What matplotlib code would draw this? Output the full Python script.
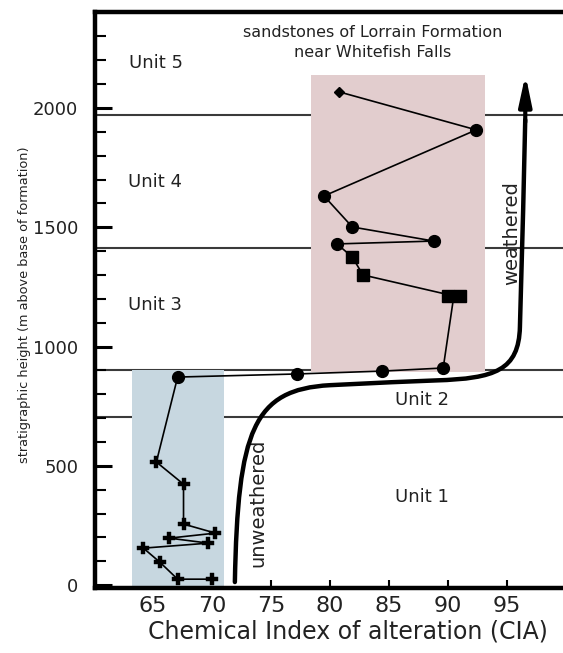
import matplotlib
matplotlib.use("Agg")
import matplotlib.pyplot as plt
from matplotlib.patches import Rectangle, PathPatch
from matplotlib.path import Path
import numpy as np

# ---- data ----
cross_cia = [70.0, 67.1, 65.6, 64.2, 69.7, 66.4, 70.3, 67.6, 67.6, 65.3]
cross_h = [25, 25, 96, 155, 176, 197, 218, 256, 423, 516]

circ_low_cia = [67.1, 77.2, 84.4, 89.6]
circ_low_h = [872, 885, 897, 910]

sq_cia = [90.0, 91.0, 82.8, 81.9]
sq_h = [1212, 1212, 1300, 1375]

circ_up_cia = [80.6, 88.8, 81.9, 79.5, 92.4]
circ_up_h = [1430, 1442, 1501, 1631, 1908]

dia_cia = [80.8]
dia_h = [2067]

unit_bounds = [704, 901, 1413, 1971]
unit_names = ["Unit 1", "Unit 2", "Unit 3", "Unit 4", "Unit 5"]
unit_x = [87.8, 87.8, 65.2, 65.2, 65.25]
unit_y = [369, 776, 1174, 1690, 2189]

# schematic weathering trend: cubic Bezier control points (start, c1, c2, end, c1, c2, end, ...)
trend_cia = [71.95, 72.2, 73.5, 80.0, 84.0, 86.5, 89.0, 94.0, 96.0, 96.1, 96.3, 96.45, 96.55]
trend_h = [13, 650, 820, 838, 848, 853, 858, 866, 900, 1082, 1450, 1700, 1950]
arrow_top = 2140

blue_box = (63.2, 71.0, -12, 901)
pink_box = (78.4, 93.1, 893, 2138)

xticks = [65, 70, 75, 80, 85, 90, 95]
yticks = [0, 500, 1000, 1500, 2000]

# ---- figure ----
plt.rcParams['font.family'] = ['DejaVu Sans']
fig = plt.figure(figsize=(5.63, 6.53), dpi=100)
ax = fig.add_axes([95/563, 65/653, 1 - 95/563, 576/653])
ax.set_xlim(60.1, 99.75)
ax.set_ylim(-12, 2402)

for b in unit_bounds:
    ax.axhline(b, color="#3a3a3a", lw=1.5, zorder=1)

x0, x1, y0, y1 = blue_box
ax.add_patch(Rectangle((x0, y0), x1 - x0, y1 - y0, facecolor="#c7d7e0", edgecolor="none", zorder=2))
x0, x1, y0, y1 = pink_box
ax.add_patch(Rectangle((x0, y0), x1 - x0, y1 - y0, facecolor="#e2cdce", edgecolor="none", zorder=2))

# connecting line
line_cia = cross_cia + circ_low_cia + [np.mean(sq_cia[:2])] + sq_cia[2:] + circ_up_cia + dia_cia
line_h = cross_h + circ_low_h + [sq_h[0]] + sq_h[2:] + circ_up_h + dia_h
ax.plot(line_cia, line_h, color="black", lw=1.2, zorder=3)

ax.plot(cross_cia, cross_h, ls="none", marker="P", ms=9, color="black", mec="black", mew=0.3, zorder=4)
ax.plot(circ_low_cia, circ_low_h, ls="none", marker="o", ms=8.5, color="black", zorder=4)
ax.plot(circ_up_cia, circ_up_h, ls="none", marker="o", ms=8.5, color="black", zorder=4)
ax.plot(sq_cia, sq_h, ls="none", marker="s", ms=8.5, color="black", zorder=4)
ax.plot(dia_cia, dia_h, ls="none", marker="D", ms=5.5, color="black", zorder=4)

# trend curve (Bezier)
verts = list(zip(trend_cia, trend_h))
codes = [Path.MOVETO] + [Path.CURVE4] * (len(verts) - 1)
ax.add_patch(PathPatch(Path(verts, codes), facecolor="none", edgecolor="black", lw=3.2,
                       capstyle="round", joinstyle="round", zorder=5))
ax.annotate("", xy=(trend_cia[-1] + 0.02, arrow_top), xytext=(trend_cia[-1], trend_h[-1] - 10),
            arrowprops=dict(arrowstyle="-|>,head_length=1.8,head_width=0.38", color="black", lw=3.0,
                            shrinkA=0, shrinkB=0), zorder=5)

ax.text(95.4, 1476, "weathered", rotation=90, ha="center", va="center", fontsize=14, color="#222222")
ax.text(73.9, 344, "unweathered", rotation=90, ha="center", va="center", fontsize=14, color="#222222")

for n, xx, yy in zip(unit_names, unit_x, unit_y):
    ax.text(xx, yy, n, ha="center", va="center", fontsize=13, color="#222222")

ax.text(83.6, 2314, "sandstones of Lorrain Formation", ha="center", va="center", fontsize=11.5, color="#222222")
ax.text(83.6, 2231, "near Whitefish Falls", ha="center", va="center", fontsize=11.5, color="#222222")

# spines / ticks
for s in ["left", "top", "bottom"]:
    ax.spines[s].set_linewidth(3.2)
ax.spines["right"].set_visible(False)

ax.set_xticks(xticks)
ax.set_yticks(yticks)
ax.set_yticks(np.arange(100, 2400, 100), minor=True)
ax.tick_params(axis="y", which="major", direction="in", length=12, width=2.2, labelsize=13, pad=12,
               labelcolor="#222222")
ax.tick_params(axis="y", which="minor", direction="in", length=8, width=1.5)
ax.tick_params(axis="x", which="major", direction="in", length=6, width=1.5, labelsize=16, pad=6,
               labelcolor="#222222")

fig.text(348/563, 1 - 632/653, "Chemical Index of alteration (CIA)", ha="center", va="center",
         fontsize=17, color="#222222")
fig.text(25/563, 1 - 305/653, "stratigraphic height (m above base of formation)", rotation=90,
         ha="center", va="center", fontsize=9.3, color="#222222")

fig.savefig("out.png", dpi=100)
